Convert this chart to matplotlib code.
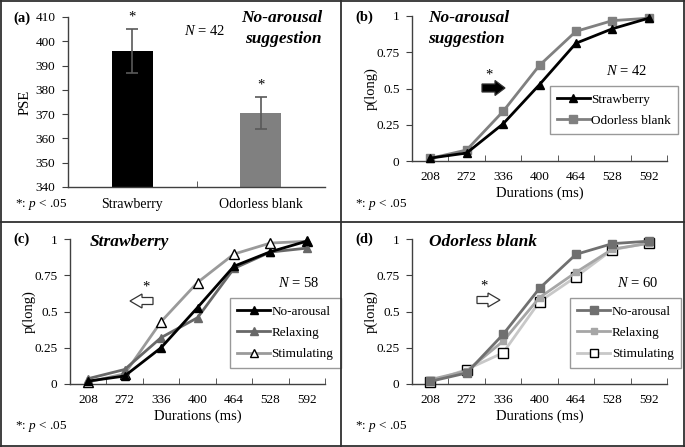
import matplotlib
matplotlib.use("Agg")
import matplotlib.pyplot as plt
from matplotlib.patches import Polygon
from matplotlib.lines import Line2D
import numpy as np

plt.rcParams['font.family'] = ['Liberation Serif', 'DejaVu Serif']
plt.rcParams['mathtext.fontset'] = 'custom'
plt.rcParams['mathtext.it'] = 'Liberation Serif:italic'
plt.rcParams['mathtext.rm'] = 'Liberation Serif'

# ---- data ----
bar_categories = ["Strawberry", "Odorless blank"]
pse_values = [396.0, 370.5]
pse_errors = [9.0, 6.5]

durations = ["208", "272", "336", "400", "464", "528", "592"]

b_strawberry = [0.02, 0.055, 0.256, 0.527, 0.812, 0.912, 0.985]
b_odorless = [0.018, 0.076, 0.342, 0.660, 0.894, 0.968, 0.985]

c_noarousal = [0.02, 0.055, 0.250, 0.527, 0.812, 0.912, 0.985]
c_relaxing = [0.037, 0.100, 0.320, 0.457, 0.797, 0.910, 0.937]
c_stimulating = [0.014, 0.070, 0.430, 0.700, 0.896, 0.972, 0.984]

d_noarousal = [0.018, 0.076, 0.342, 0.660, 0.894, 0.968, 0.985]
d_relaxing = [0.030, 0.090, 0.295, 0.596, 0.770, 0.930, 0.970]
d_stimulating = [0.015, 0.100, 0.215, 0.568, 0.739, 0.926, 0.972]

W, H = 685, 447
fig = plt.figure(figsize=(W / 100, H / 100), dpi=100)

TICK_FS = 9.5
LAB_FS = 10.5
LEG_FS = 9.5


def add_ax(l, r, t, b):
    return fig.add_axes([l / W, 1 - b / H, (r - l) / W, (b - t) / H])


def fig_text(x, y, s, **kw):
    fig.text(x / W, 1 - y / H, s, **kw)


AXC = '#404040'


def style_axes(ax):
    for s in ['top', 'right']:
        ax.spines[s].set_visible(False)
    for s in ['left', 'bottom']:
        ax.spines[s].set_color(AXC)
        ax.spines[s].set_linewidth(1.0)
    ax.tick_params(axis='y', direction='out', length=4, color=AXC, labelsize=TICK_FS, pad=5)


# ---- panel (a) ----
axa = add_ax(68, 325, 17, 187)
style_axes(axa)
xa = np.arange(len(bar_categories))
axa.bar(xa, [v - 340 for v in pse_values], bottom=340, width=0.32,
        color=['#000000', '#808080'], zorder=2)
axa.errorbar(xa, pse_values, yerr=pse_errors, fmt='none', ecolor='#595959',
             elinewidth=1.2, capsize=4, capthick=1.2, zorder=3)
axa.set_xlim(-0.5, 1.5)
axa.set_ylim(340, 410)
axa.set_yticks(np.arange(340, 411, 10))
axa.set_xticks(xa)
axa.set_xticklabels(bar_categories, fontsize=10)
axa.tick_params(axis='x', length=0, pad=8)
axa.set_xticks([0.5], minor=True)
axa.tick_params(axis='x', which='minor', direction='in', length=4, color=AXC)
axa.set_ylabel('PSE', fontsize=LAB_FS)
axa.yaxis.set_label_coords(-0.14, 0.5)
for i, (v, e) in enumerate(zip(pse_values, pse_errors)):
    axa.text(i, v + e + 2.3, '*', ha='center', va='bottom', fontsize=10.5)


def line_panel(l, r, t, b):
    ax = add_ax(l, r, t, b)
    style_axes(ax)
    n = len(durations)
    ax.set_xlim(-0.5, n - 0.5)
    ax.set_ylim(0, 1)
    ax.set_yticks([0, 0.25, 0.5, 0.75, 1])
    ax.set_yticklabels(['0', '0.25', '0.5', '0.75', '1'])
    ax.set_xticks(np.arange(n))
    ax.set_xticklabels(durations, fontsize=TICK_FS)
    ax.tick_params(axis='x', length=0, pad=7)
    ax.set_xticks(np.arange(n + 1) - 0.5, minor=True)
    ax.tick_params(axis='x', which='minor', direction='in', length=4, color=AXC)
    ax.set_xlabel('Durations (ms)', fontsize=LAB_FS, labelpad=3)
    ax.set_ylabel('p(long)', fontsize=LAB_FS)
    ax.yaxis.set_label_coords(-0.135, 0.5)
    return ax


def plot_series(ax, vals, color, marker, mfc, mec, label, ms=6, z=3):
    ax.plot(np.arange(len(vals)), vals, color=color, lw=2.0, marker=marker,
            ms=ms, mfc=mfc, mec=mec, mew=1.0, label=label, clip_on=False, zorder=z)


def make_legend(ax, handles, labels, x, y):
    leg = ax.legend(handles, labels, loc='upper left', bbox_to_anchor=(x, y),
                    fontsize=LEG_FS, frameon=True, fancybox=False, edgecolor='#808080',
                    handlelength=2.5, handletextpad=0.1, borderpad=0.55,
                    labelspacing=0.7, borderaxespad=0, markerscale=0.85)
    leg.get_frame().set_linewidth(1.0)
    return leg


# ---- panel (b) ----
axb = line_panel(412, 667, 16, 161)
plot_series(axb, b_odorless, '#808080', 's', '#808080', '#808080', 'Odorless blank', z=3)
plot_series(axb, b_strawberry, '#000000', '^', '#000000', '#000000', 'Strawberry', z=4)
h, lab = axb.get_legend_handles_labels()
make_legend(axb, h[::-1], lab[::-1], 0.54, 0.517)

# ---- panel (c) ----
axc = line_panel(70, 325, 239, 384)
plot_series(axc, c_stimulating, '#9a9a9a', '^', 'white', '#000000', 'Stimulating', ms=7, z=3)
plot_series(axc, c_relaxing, '#686868', '^', '#686868', '#686868', 'Relaxing', z=3)
plot_series(axc, c_noarousal, '#000000', '^', '#000000', '#000000', 'No-arousal', z=4)
h, lab = axc.get_legend_handles_labels()
order = [2, 1, 0]
make_legend(axc, [h[i] for i in order], [lab[i] for i in order], 0.627, 0.593)

# ---- panel (d) ----
axd = line_panel(412, 667, 239, 384)
plot_series(axd, d_stimulating, '#c8c8c8', 's', 'white', '#000000', 'Stimulating', ms=6.5, z=3)
plot_series(axd, d_relaxing, '#a6a6a6', 's', '#a6a6a6', '#a6a6a6', 'Relaxing', ms=5, z=3)
plot_series(axd, d_noarousal, '#707070', 's', '#707070', '#707070', 'No-arousal', z=4)
h, lab = axd.get_legend_handles_labels()
make_legend(axd, [h[i] for i in order], [lab[i] for i in order], 0.62, 0.593)

# ---- annotations ----
fig_text(13, 18, '(a)', fontsize=10.5, fontweight='bold', va='center')
fig_text(355, 17, '(b)', fontsize=10.5, fontweight='bold', va='center')
fig_text(13, 239, '(c)', fontsize=10.5, fontweight='bold', va='center')
fig_text(355, 239, '(d)', fontsize=10.5, fontweight='bold', va='center')

TFS = 12.5
fig_text(322, 18, 'No-arousal', fontsize=TFS, fontweight='bold', style='italic', ha='right', va='center')
fig_text(322, 39, 'suggestion', fontsize=TFS, fontweight='bold', style='italic', ha='right', va='center')
fig_text(428, 18, 'No-arousal', fontsize=TFS, fontweight='bold', style='italic', ha='left', va='center')
fig_text(428, 39, 'suggestion', fontsize=TFS, fontweight='bold', style='italic', ha='left', va='center')
fig_text(90, 242, 'Strawberry', fontsize=TFS, fontweight='bold', style='italic', ha='left', va='center')
fig_text(429, 242, 'Odorless blank', fontsize=TFS, fontweight='bold', style='italic', ha='left', va='center')

NFS = 10.5
fig_text(184, 31, '$N$ = 42', fontsize=NFS, va='center')
fig_text(606, 71, '$N$ = 42', fontsize=NFS, va='center')
fig_text(278, 283, '$N$ = 58', fontsize=NFS, va='center')
fig_text(617, 283, '$N$ = 60', fontsize=NFS, va='center')

for (x, y) in [(15, 204), (355, 204), (15, 426), (355, 426)]:
    fig_text(x, y, '*: $p$ < .05', fontsize=9.5, va='center')

fig_text(489, 75, '*', fontsize=10.5, ha='center', va='center')
fig_text(146, 287, '*', fontsize=10.5, ha='center', va='center')
fig_text(484, 286, '*', fontsize=10.5, ha='center', va='center')


def arrow(x0, x1, yc, direction, filled, body=4, head=7.5, hl=10):
    if direction == 'right':
        pts = [(x0, yc - body), (x1 - hl, yc - body), (x1 - hl, yc - head), (x1, yc),
               (x1 - hl, yc + head), (x1 - hl, yc + body), (x0, yc + body)]
    else:
        pts = [(x1, yc - body), (x0 + hl, yc - body), (x0 + hl, yc - head), (x0, yc),
               (x0 + hl, yc + head), (x0 + hl, yc + body), (x1, yc + body)]
    pts = [(x / W, 1 - y / H) for x, y in pts]
    p = Polygon(pts, closed=True, transform=fig.transFigure,
                facecolor='black' if filled else 'white', edgecolor='#333333',
                lw=0.9)
    fig.patches.append(p)


arrow(482, 505, 88, 'right', True)
arrow(130, 153, 301, 'left', False, body=3.5, head=7, hl=12)
arrow(477, 500, 300, 'right', False, body=3.5, head=7, hl=12)

# ---- panel borders ----
bc = '#303030'
for xs, ys in [([0.5, 684.5], [0.5, 0.5]), ([0.5, 684.5], [446, 446]),
               ([0.5, 0.5], [0, 447]), ([684.3, 684.3], [0, 447]),
               ([0, 685], [222, 222]), ([341, 341], [0, 447])]:
    fig.add_artist(Line2D([x / W for x in xs], [1 - y / H for y in ys],
                          color=bc, lw=1.3, transform=fig.transFigure))

fig.savefig('out.png', dpi=100)
